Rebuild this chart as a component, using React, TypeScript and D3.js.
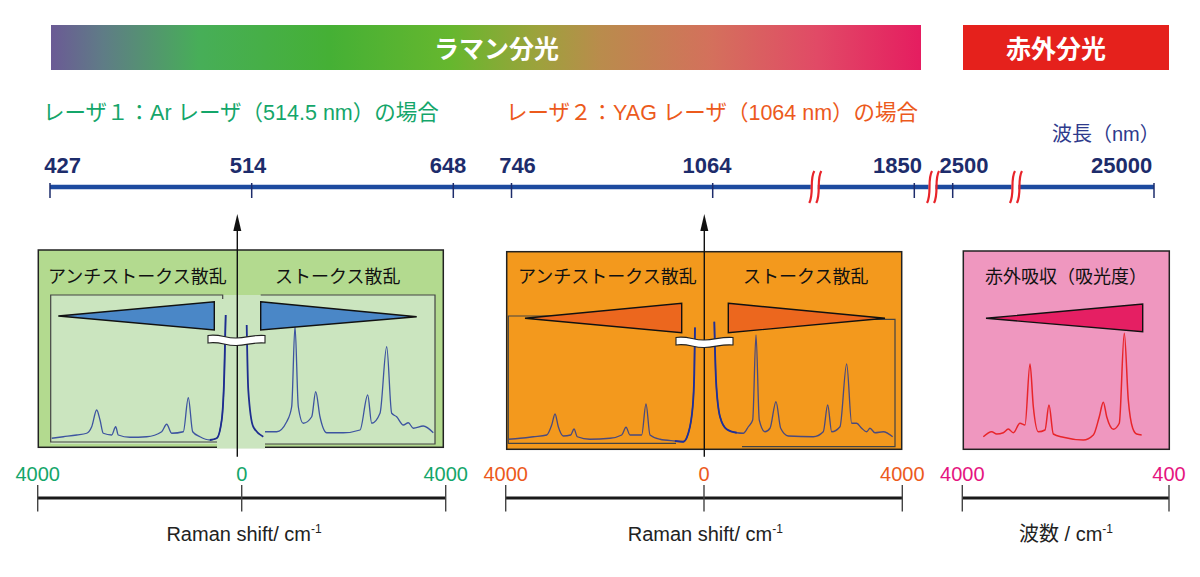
import React from 'react';
import * as d3 from 'd3';

type P = [number, number];

const wavelengthTicks = [427, 514, 648, 746, 1064, 1850, 2500, 25000];
const wavelengthBreaks = [1460, 2150, 9460];
const ramanTicks = [-4000, 0, 4000];
const irTicks = [4000, 400];

// Ar laser (514.5 nm): [Raman shift (negative = anti-Stokes), intensity]
const arAntiStokes: P[] = [
  [-3725, 1.4], [-3498, 2.6], [-3235, 4.0], [-3039, 5.4], [-2941, 10.6], [-2843, 24], [-2778, 16],
  [-2714, 5.4], [-2549, 4], [-2471, 10.6], [-2420, 4], [-2190, 2.2], [-1863, 2.6], [-1569, 6.6],
  [-1471, 12.6], [-1373, 5.4], [-1145, 6.6], [-1047, 33.8], [-961, 6.6], [-818, 2.6], [-622, 0],
  [-490, 1.4], [-392, 16], [-341, 53.6], [-314, 100],
];
const arLaserTail: P[] = [[98, 92], [129, 40], [227, 10.6], [424, 2.6]];
const arStokes: P[] = [
  [457, 6.6], [686, 6.6], [882, 14.6], [980, 26.6], [1045, 91], [1110, 26.6], [1208, 13.4],
  [1373, 18.6], [1451, 38.6], [1535, 18.6], [1667, 5.8], [1992, 5.8], [2320, 8], [2471, 36],
  [2549, 13.4], [2712, 21.4], [2843, 74.6], [2941, 21.4], [3039, 18.6], [3169, 12], [3267, 13.8],
  [3365, 9.4], [3561, 11.2], [3757, 5.8],
];

// YAG laser (1064 nm)
const yagAntiStokes: P[] = [
  [-3947, 0.6], [-3711, 1.4], [-3443, 2.6], [-3173, 4], [-3072, 12], [-3005, 20.8], [-2939, 10.6],
  [-2838, 3.2], [-2689, 4], [-2622, 8.8], [-2556, 2.6], [-2300, 0.6], [-1896, 1.4], [-1660, 4],
  [-1573, 10.2], [-1493, 4], [-1257, 4], [-1170, 28.8], [-1089, 4], [-887, 0.6], [-585, -0.8],
  [-418, -1.4], [-317, 5.4], [-228, 26.6], [-196, 53.4], [-182, 90],
];
const yagStokes: P[] = [
  [208, 94.6], [242, 48], [323, 18.6], [458, 8.6], [660, 5.8], [793, 5.4], [894, 10.6], [982, 16],
  [1049, 84], [1115, 16], [1230, 6.6], [1331, 9.4], [1452, 30.6], [1547, 9.4], [1700, 3.2],
  [2205, 2.6], [2406, 6.6], [2495, 28], [2576, 6.6], [2743, 10.6], [2878, 60.8], [2979, 13.4],
  [3080, 13.4], [3181, 9.4], [3282, 6.6], [3348, 9.4], [3449, 5.8], [3617, 6.6], [3806, 2.6],
];

// IR absorption: [wavenumber, absorbance]
const irSpectrum: P[] = [
  [3634, 2.6], [3488, 6.6], [3401, 4.8], [3286, 5.8], [3199, 8.8], [3112, 5.8], [2995, 13.4],
  [2908, 12], [2821, 60.8], [2763, 26.6], [2676, 6.6], [2560, 8], [2490, 28], [2415, 4.8],
  [2241, 2.2], [1893, 0], [1718, 4], [1614, 18.6], [1544, 30.2], [1485, 18.6], [1370, 8.6],
  [1266, 13.4], [1179, 85.4], [1109, 32], [1032, 9.4], [963, 4.8], [876, 4],
];

const CJK = "'Liberation Sans', 'Noto Sans CJK JP', sans-serif";
const JP = "'Noto Sans CJK JP', sans-serif";
const LAT = "'Liberation Sans', Arial, sans-serif";

const GREEN = '#14a66a';
const ORANGE = '#ec5a1c';
const PINK = '#e5147f';

export default function App() {
  const wl = d3.scaleLinear().domain(wavelengthTicks).range([50, 251.7, 453.3, 511.5, 712.7, 914.3, 952.7, 1154]);
  const gx = d3.scaleLinear().domain([-4000, 0, 4000]).range([37.7, 241.7, 445.7]);
  const ox = d3.scaleLinear().domain([-4000, 0, 4000]).range([505.7, 704, 902.3]);
  const ix = d3.scaleLinear().domain([4000, 400]).range([962.3, 1169]);
  const ys = d3.scaleLinear().domain([0, 100]).range([440, 315]);

  const mk = (xs: d3.ScaleLinear<number, number>) =>
    d3.line<P>().x((d) => xs(d[0])).y((d) => ys(d[1])).curve(d3.curveMonotoneX);
  const gLine = mk(gx);
  const oLine = mk(ox);
  const iLine = mk(ix);

  const labelDx = [12.7, -3.7, -5.3, 6, -5.7, -16.8, 11.3, -32.3];

  const breakStroke = (cx: number) =>
    `M${cx + 3.5},171 C${cx - 1.5},180 ${cx + 3.5},193 ${cx - 1.5},203`;

  const ribbon = (x0: number, y0: number) => {
    const w = 57;
    const m = x0 + w / 2;
    return `M${x0},${y0} C${x0 + 12},${y0 - 2} ${m - 11},${y0 + 3} ${m},${y0 + 2.5} C${m + 11},${y0 + 2} ${x0 + w - 11},${y0 - 1} ${x0 + w},${y0}
      L${x0 + w},${y0 + 7.5} C${x0 + w - 11},${y0 + 6.5} ${m + 11},${y0 + 9.5} ${m},${y0 + 10} C${m - 11},${y0 + 10.5} ${x0 + 12},${y0 + 5.5} ${x0},${y0 + 7.5} Z`;
  };

  const arrow = (x: number) => (
    <g>
      <line x1={x} y1={226} x2={x} y2={456.7} stroke="#111" strokeWidth={1.4} />
      <polygon points={`${x},214 ${x - 4},231 ${x + 4},231`} fill="#111" />
    </g>
  );

  const bottomAxis = (
    scale: d3.ScaleLinear<number, number>,
    ticks: number[],
    color: string,
    key: string
  ) => (
    <g key={key}>
      <line x1={scale(ticks[0])} x2={scale(ticks[ticks.length - 1])} y1={498} y2={498} stroke="#1a1a1a" strokeWidth={3} />
      {ticks.map((t, i) => (
        <g key={i}>
          <line x1={scale(t)} x2={scale(t)} y1={485} y2={511.5} stroke="#444" strokeWidth={1.4} />
          <text x={scale(t)} y={480.5} textAnchor="middle" fontFamily={LAT} fontSize={20} fill={color}>
            {Math.abs(t)}
          </text>
        </g>
      ))}
    </g>
  );

  return (
    <svg width={1200} height={577} style={{ position: 'absolute', left: 0, top: 0, background: '#fff' }}>
      <defs>
        <linearGradient id="raman" x1="0" x2="1" y1="0" y2="0">
          <stop offset="0" stopColor="#6b5a95" />
          <stop offset="0.06" stopColor="#5f7c86" />
          <stop offset="0.17" stopColor="#47ae58" />
          <stop offset="0.32" stopColor="#45b035" />
          <stop offset="0.46" stopColor="#66b72e" />
          <stop offset="0.56" stopColor="#9da23c" />
          <stop offset="0.63" stopColor="#b98c4c" />
          <stop offset="0.76" stopColor="#d4705c" />
          <stop offset="0.88" stopColor="#e14a66" />
          <stop offset="1" stopColor="#e51d60" />
        </linearGradient>
      </defs>

      {/* top bars */}
      <rect x={51} y={25} width={870} height={45} fill="url(#raman)" />
      <text x={496.5} y={58} textAnchor="middle" fontFamily={JP} fontWeight={700} fontSize={25} fill="#fff">ラマン分光</text>
      <rect x={963} y={25} width={206} height={45} fill="#e5211c" />
      <text x={1056} y={58} textAnchor="middle" fontFamily={JP} fontWeight={700} fontSize={25} fill="#fff">赤外分光</text>

      {/* laser captions */}
      <text x={43} y={120} fontFamily={CJK} fontSize={21.5} fill={GREEN}>レーザ１：Ar レーザ（514.5 nm）の場合</text>
      <text x={506} y={120} fontFamily={CJK} fontSize={21.5} fill={ORANGE}>レーザ２：YAG レーザ（1064 nm）の場合</text>
      <text x={1052} y={141} fontFamily={CJK} fontSize={20} fill="#2e3a8c">波長（nm）</text>

      {/* wavelength axis */}
      <line x1={wl(427)} x2={wl(25000)} y1={187} y2={187} stroke="#1d4a9f" strokeWidth={4.5} />
      {wavelengthTicks.map((t, i) => (
        <g key={t}>
          <line x1={wl(t)} x2={wl(t)} y1={183} y2={198} stroke="#1d2c6b" strokeWidth={1.5} />
          <text x={wl(t) + labelDx[i]} y={172.7} textAnchor="middle" fontFamily={LAT} fontWeight={700} fontSize={22} fill="#1d2c6b">
            {t}
          </text>
        </g>
      ))}
      {wavelengthBreaks.map((b) => {
        const cx = wl(b);
        return (
          <g key={b}>
            <rect x={cx - 3.5} y={183.5} width={7} height={7} fill="#fff" />
            <path d={breakStroke(cx - 3.5)} fill="none" stroke="#e8242a" strokeWidth={2.2} />
            <path d={breakStroke(cx + 3.5)} fill="none" stroke="#e8242a" strokeWidth={2.2} />
          </g>
        );
      })}

      {/* green (Ar) panel */}
      <rect x={38.3} y={250} width={405} height={197.3} fill="#b3da8f" stroke="#222" strokeWidth={1.5} />
      <rect x={50.7} y={295} width={384.3} height={149} fill="#cbe5bf" />
      <rect x={217} y={297} width={48} height={151.5} fill="#cbe5bf" />
      <path d="M222.7,299 L222.7,295 L50.7,295 L50.7,442 L217,442" fill="none" stroke="#444" strokeWidth={1.2} />
      <path d="M260.7,295 L435,295 L435,444 L265,444" fill="none" stroke="#444" strokeWidth={1.2} />
      <text x={48} y={283} fontFamily={JP} fontSize={18} fill="#111">アンチストークス散乱</text>
      <text x={275} y={283} fontFamily={JP} fontSize={18} fill="#111">ストークス散乱</text>
      <path d={gLine(arAntiStokes) || ''} fill="none" stroke="#3d54a0" strokeWidth={1.3} />
      <path d={gLine(arStokes) || ''} fill="none" stroke="#3d54a0" strokeWidth={1.3} />
      <path d={gLine(arAntiStokes.slice(-5)) || ''} fill="none" stroke="#1e2d8f" strokeWidth={1.8} />
      <path d={gLine(arLaserTail) || ''} fill="none" stroke="#1e2d8f" strokeWidth={1.8} />
      <polygon points="58.3,316 214.3,301.7 214.3,330" fill="#4a87c7" stroke="#111" strokeWidth={1.4} />
      <polygon points="260.7,301.7 416.7,316.7 260.7,330" fill="#4a87c7" stroke="#111" strokeWidth={1.4} />
      {arrow(237.3)}
      <path d={ribbon(208, 335.5)} fill="#fff" stroke="#222" strokeWidth={1.1} />

      {/* orange (YAG) panel */}
      <rect x={506.7} y={251.7} width={395} height={197.6} fill="#f3991d" stroke="#222" strokeWidth={1.5} />
      <path d="M681,316 L508.3,316 L508.3,443.3 L676,443.3" fill="none" stroke="#444" strokeWidth={1.2} />
      <path d="M728,319.3 L895,319.3 L895,446.7 L742,446.7" fill="none" stroke="#444" strokeWidth={1.2} />
      <text x={518} y={283} fontFamily={JP} fontSize={18} fill="#111">アンチストークス散乱</text>
      <text x={743} y={283} fontFamily={JP} fontSize={18} fill="#111">ストークス散乱</text>
      <path d={oLine(yagAntiStokes) || ''} fill="none" stroke="#4a4a7e" strokeWidth={1.3} />
      <path d={oLine(yagStokes) || ''} fill="none" stroke="#4a4a7e" strokeWidth={1.3} />
      <path d={oLine(yagAntiStokes.slice(-6)) || ''} fill="none" stroke="#1f3099" strokeWidth={1.8} />
      <path d={oLine(yagStokes.slice(0, 5)) || ''} fill="none" stroke="#1f3099" strokeWidth={1.8} />
      <polygon points="525,318.3 681.7,303.3 681.7,332.7" fill="#ec671e" stroke="#111" strokeWidth={1.4} />
      <polygon points="728.3,303.3 885,318.3 728.3,332.7" fill="#ec671e" stroke="#111" strokeWidth={1.4} />
      {arrow(704.3)}
      <path d={ribbon(676, 337.5)} fill="#fff" stroke="#222" strokeWidth={1.1} />

      {/* pink (IR) panel */}
      <rect x={963.3} y={251} width={206} height={198.3} fill="#ef97bf" stroke="#222" strokeWidth={1.5} />
      <text x={985} y={283} fontFamily={JP} fontSize={18} fill="#111">赤外吸収（吸光度）</text>
      <polygon points="986,318.3 1142.7,304 1142.7,331.7" fill="#e51f63" stroke="#111" strokeWidth={1.4} />
      <path d={iLine(irSpectrum) || ''} fill="none" stroke="#e8252a" strokeWidth={1.5} />

      {/* bottom axes */}
      {bottomAxis(gx, ramanTicks, GREEN, 'g')}
      {bottomAxis(ox, ramanTicks, ORANGE, 'o')}
      {bottomAxis(ix, irTicks, PINK, 'i')}
      <text x={244} y={541} textAnchor="middle" fontFamily={LAT} fontSize={20} fill="#222">
        Raman shift/ cm<tspan dy={-8} fontSize={12}>-1</tspan>
      </text>
      <text x={705.3} y={541} textAnchor="middle" fontFamily={LAT} fontSize={20} fill="#222">
        Raman shift/ cm<tspan dy={-8} fontSize={12}>-1</tspan>
      </text>
      <text x={1066} y={541} textAnchor="middle" fontFamily={CJK} fontSize={20} fill="#222">
        波数 / cm<tspan dy={-8} fontSize={12}>-1</tspan>
      </text>
    </svg>
  );
}
